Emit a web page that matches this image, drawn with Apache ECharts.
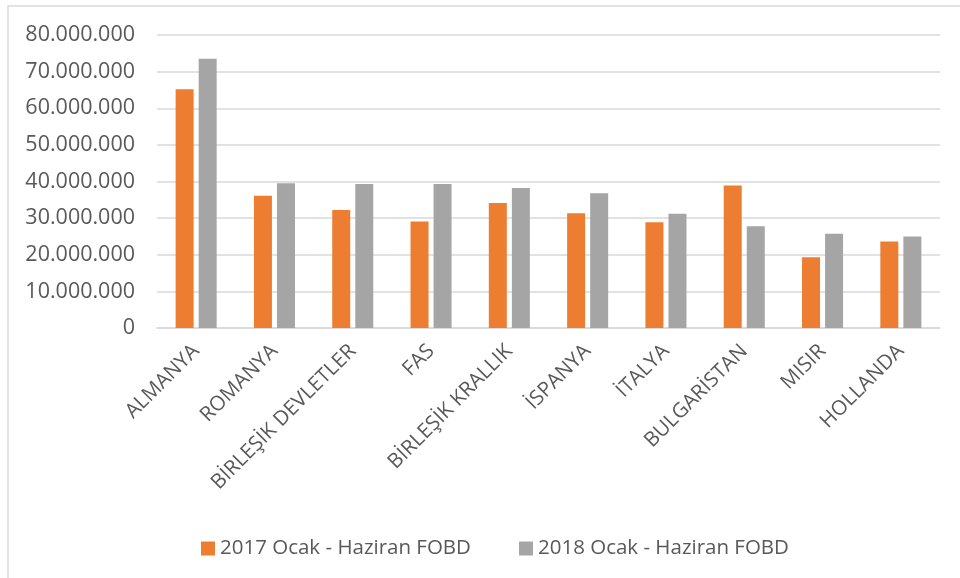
<!DOCTYPE html>
<html><head><meta charset="utf-8">
<script src="https://cdn.jsdelivr.net/npm/echarts@6/dist/echarts.min.js"></script>
<style>html,body{margin:0;padding:0;background:#fff}#c{width:960px;height:578px}</style>
</head><body><div id="c"></div>
<script>
var categories = ['ALMANYA','ROMANYA','BİRLEŞİK DEVLETLER','FAS','BİRLEŞİK KRALLIK','İSPANYA','İTALYA','BULGARİSTAN','MISIR','HOLLANDA'];
var seriesNames = ['2017 Ocak - Haziran FOBD','2018 Ocak - Haziran FOBD'];
var values2017 = [65200000,36100000,32200000,29100000,34100000,31300000,28900000,38900000,19300000,23600000];
var values2018 = [73500000,39500000,39300000,39300000,38200000,36800000,31200000,27800000,25700000,25000000];
var yTicks = {min:0, max:80000000, interval:10000000};

function fmt(v){ return String(Math.round(v)).replace(/\B(?=(\d{3})+(?!\d))/g,'.'); }

var chart = echarts.init(document.getElementById('c'));
chart.setOption({
  animation:false,
  backgroundColor:'#fff',
  textStyle:{fontFamily:'Open Sans'},
  graphic:[{type:'rect',shape:{x:8,y:6,width:1200,height:1200},style:{fill:'none',stroke:'#d9d9d9',lineWidth:1.5},silent:true}],
  grid:{left:157,right:20,top:35,bottom:250,containLabel:false},
  legend:{left:196,top:533,itemWidth:14,itemHeight:14,itemGap:48,icon:'rect',
    textStyle:{color:'#595959',fontSize:20.5,fontFamily:'Open Sans'},
    data:seriesNames},
  xAxis:{type:'category',data:categories,
    axisLine:{lineStyle:{color:'#d9d9d9',width:1.5}},axisTick:{show:false},
    axisLabel:{rotate:45,interval:0,margin:20,color:'#595959',fontSize:20.5,fontFamily:'Open Sans'}},
  yAxis:{type:'value',min:yTicks.min,max:yTicks.max,interval:yTicks.interval,
    axisLine:{show:false},axisTick:{show:false},
    splitLine:{lineStyle:{color:'#d9d9d9',width:1.5}},
    axisLabel:{margin:22,color:'#595959',fontSize:21.5,fontFamily:'Open Sans',formatter:fmt}},
  series:[
    {name:seriesNames[0],type:'bar',data:values2017,barWidth:18,barGap:'28%',itemStyle:{color:'#ED7D31'}},
    {name:seriesNames[1],type:'bar',data:values2018,barWidth:18,barGap:'28%',itemStyle:{color:'#A5A5A5'}}
  ]
});
</script></body></html>
